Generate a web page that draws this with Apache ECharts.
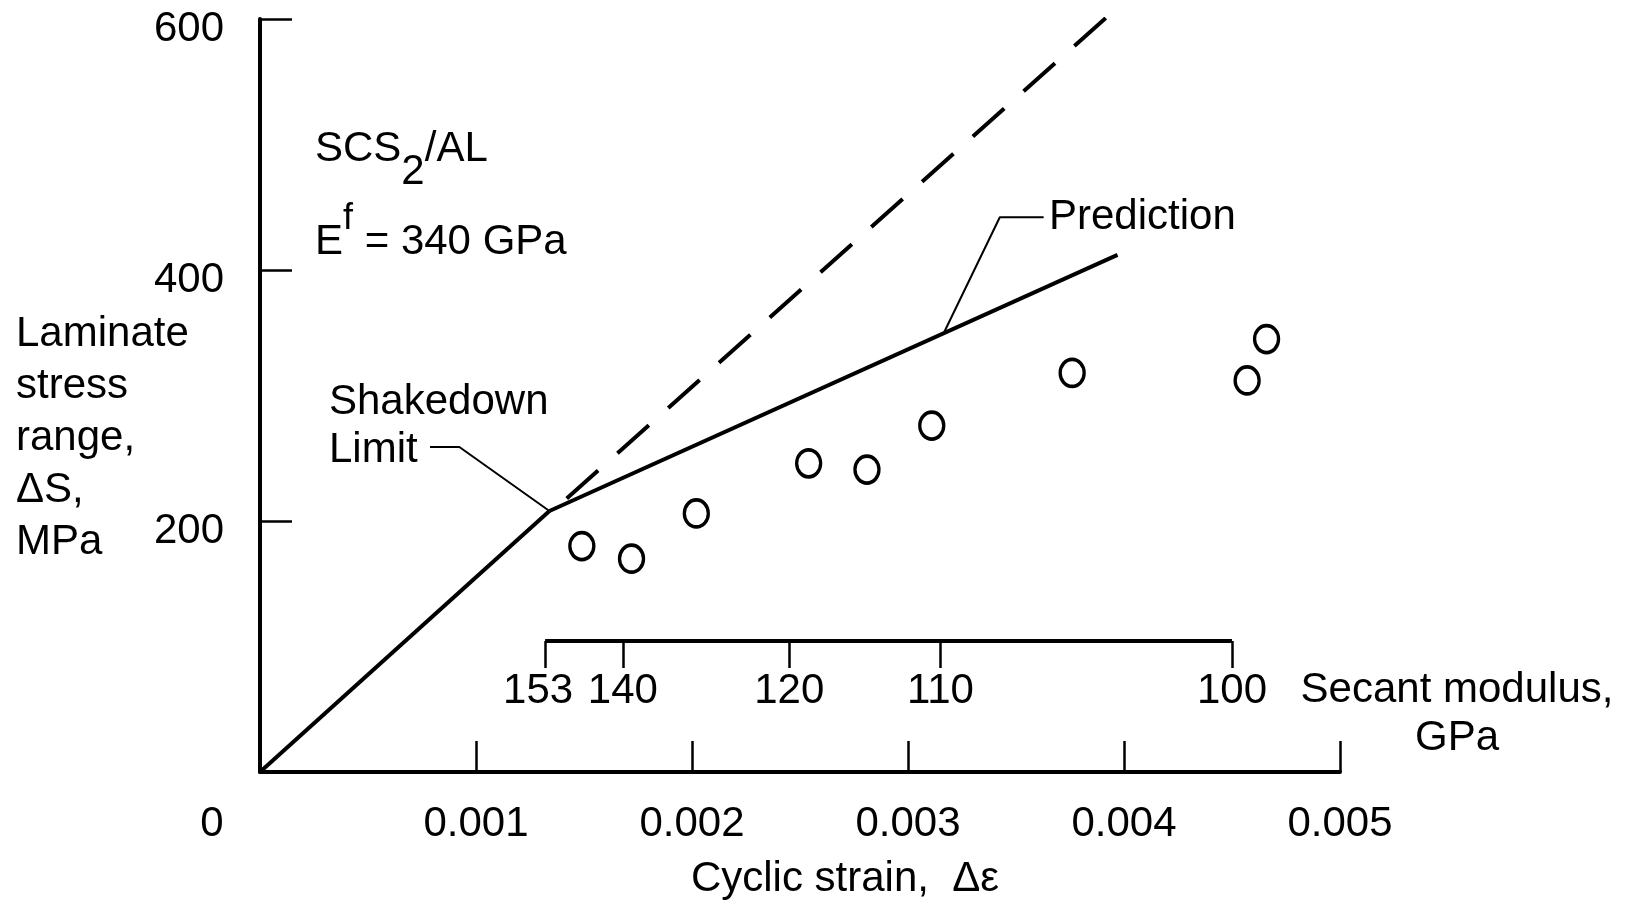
<!DOCTYPE html>
<html>
<head>
<meta charset="utf-8">
<script src="https://cdn.jsdelivr.net/npm/echarts@6/dist/echarts.min.js"></script>
<style>
  html, body { margin: 0; padding: 0; background: #fff; }
  #chart { width: 1636px; height: 910px; }
</style>
</head>
<body>
<div id="chart"></div>
<script>
// 试验数据 (cyclic strain, laminate stress range MPa)
const testStrain = [0.00149, 0.00172, 0.00202, 0.00254, 0.00281, 0.00311, 0.00376, 0.00457, 0.00466];
const testStress = [180, 170, 206, 246, 241, 276, 318, 312, 345];

// 弹性段 + 预测段
const elasticStrain = [0, 0.00134];
const elasticStress = [0, 208];
const predictionStrain = [0.00134, 0.00397];
const predictionStress = [208, 412];
// 弹性延长线 (虚线)
const extensionStrain = [0.00142, 0.00393];
const extensionStress = [218, 603];

// 割线模量刻度
const modulusTicks = [153, 140, 120, 110, 100];
const modulusStrain = [0.00132, 0.00168, 0.00245, 0.00315, 0.0045];

// 引线
const shakedownLeader = [[0.000787, 259], [0.000923, 259], [0.00134, 208]];
const predictionLeader = [[0.003628, 442], [0.003425, 442], [0.003169, 351]];

const FONT = '"Liberation Sans", Arial, sans-serif';
const FS = 42;

const zip = (xs, ys) => xs.map((x, i) => [x, ys[i]]);

const chart = echarts.init(document.getElementById('chart'));

const lineSeries = (data, width, type) => ({
    type: 'line',
    xAxisIndex: 0,
    yAxisIndex: 0,
    data: data,
    symbol: 'none',
    silent: true,
    lineStyle: { color: '#000', width: width, type: type || 'solid' },
    z: 3
});

const option = {
    backgroundColor: '#fff',
    animation: false,
    textStyle: { fontFamily: FONT, color: '#000' },
    grid: [
        { left: 260, right: 296, top: 19, bottom: 138 },
        { left: 260, right: 296, top: 19, bottom: 269 }
    ],
    xAxis: [
        {
            type: 'value',
            gridIndex: 0,
            min: 0,
            max: 0.005,
            interval: 0.001,
            axisLine: { lineStyle: { color: '#000', width: 4 } },
            axisTick: { inside: true, length: 31, lineStyle: { color: '#000', width: 2.5 } },
            splitLine: { show: false },
            axisLabel: {
                margin: 31,
                fontSize: FS,
                fontFamily: FONT,
                color: '#000',
                hideOverlap: false,
                formatter: v => (v === 0 ? '{zero|0}' : v.toFixed(3)),
                rich: { zero: { fontSize: FS, fontFamily: FONT, color: '#000', padding: [0, 96, 0, 0] } }
            },
            name: 'Cyclic strain,  Δε',
            nameLocation: 'middle',
            nameGap: 86,
            nameTextStyle: { fontSize: FS, fontFamily: FONT, color: '#000', padding: [0, 0, 0, 90] }
        },
        {
            type: 'value',
            gridIndex: 1,
            min: 0,
            max: 0.005,
            axisLine: { show: false },
            splitLine: { show: false },
            axisTick: {
                show: true,
                length: 27,
                customValues: modulusStrain,
                lineStyle: { color: '#000', width: 2.5 }
            },
            axisLabel: {
                margin: 29,
                fontSize: FS,
                fontFamily: FONT,
                color: '#000',
                hideOverlap: false,
                customValues: modulusStrain,
                formatter: v => {
                    const i = modulusStrain.findIndex(s => Math.abs(s - v) < 1e-9);
                    if (i < 0) return '';
                    // 第一个标签略微左移, 和 140 分开
                    return i === 0 ? '{first|' + modulusTicks[i] + '}' : String(modulusTicks[i]);
                },
                rich: { first: { fontSize: FS, fontFamily: FONT, color: '#000', padding: [0, 14, 0, 0] } }
            }
        }
    ],
    yAxis: [
        {
            type: 'value',
            gridIndex: 0,
            min: 0,
            max: 600,
            interval: 200,
            axisLine: { show: true, lineStyle: { color: '#000', width: 4 } },
            axisTick: { show: true, inside: true, length: 32, lineStyle: { color: '#000', width: 2.5 } },
            splitLine: { show: false },
            axisLabel: {
                margin: 36,
                fontSize: FS,
                fontFamily: FONT,
                color: '#000',
                formatter: v => (v === 0 ? '' : '{a|' + v + '}'),
                rich: { a: { fontSize: FS, fontFamily: FONT, color: '#000', padding: [21, 0, 0, 0] } }
            }
        },
        {
            type: 'value',
            gridIndex: 1,
            min: 0,
            max: 1,
            show: false
        }
    ],
    series: [
        lineSeries(zip(elasticStrain, elasticStress), 4),
        lineSeries(zip(predictionStrain, predictionStress), 4),
        lineSeries(zip(extensionStrain, extensionStress), 4, [42, 26]),
        lineSeries(shakedownLeader, 2),
        lineSeries(predictionLeader, 2),
        {
            type: 'line',
            xAxisIndex: 1,
            yAxisIndex: 1,
            data: [[modulusStrain[0], 0], [modulusStrain[modulusStrain.length - 1], 0]],
            symbol: 'none',
            clip: false,
            silent: true,
            lineStyle: { color: '#000', width: 4 }
        },
        {
            type: 'scatter',
            xAxisIndex: 0,
            yAxisIndex: 0,
            data: zip(testStrain, testStress),
            symbol: 'circle',
            symbolSize: [24, 27],
            itemStyle: { color: '#fff', borderColor: '#000', borderWidth: 3.5, opacity: 1 },
            z: 5
        }
    ],
    graphic: [
        {
            type: 'text',
            left: 16,
            top: 308,
            style: {
                text: 'Laminate\nstress\nrange,\nΔS,\nMPa',
                font: `${FS}px ${FONT}`,
                lineHeight: 52,
                fill: '#000'
            }
        },
        {
            type: 'text',
            left: 315,
            top: 128,
            style: {
                text: 'SCS{sub|2}/AL',
                font: `${FS}px ${FONT}`,
                fill: '#000',
                rich: {
                    sub: { fontSize: FS, fontFamily: FONT, fill: '#000', padding: [46, 0, 0, 0] }
                }
            }
        },
        {
            type: 'text',
            left: 315,
            top: 201,
            style: {
                text: 'E{sup|f} = 340 GPa',
                font: `${FS}px ${FONT}`,
                fill: '#000',
                rich: {
                    sup: { fontSize: 36, fontFamily: FONT, fill: '#000', padding: [0, 0, 46, 0] }
                }
            }
        },
        {
            type: 'text',
            left: 329,
            top: 378,
            style: {
                text: 'Shakedown\nLimit',
                font: `${FS}px ${FONT}`,
                lineHeight: 48,
                fill: '#000'
            }
        },
        {
            type: 'text',
            left: 1049,
            top: 196,
            style: {
                text: 'Prediction',
                font: `${FS}px ${FONT}`,
                fill: '#000'
            }
        },
        {
            type: 'text',
            x: 1457,
            y: 666,
            style: {
                text: 'Secant modulus,\nGPa',
                font: `${FS}px ${FONT}`,
                lineHeight: 48,
                align: 'center',
                fill: '#000'
            }
        }
    ]
};

chart.setOption(option);
</script>
</body>
</html>
